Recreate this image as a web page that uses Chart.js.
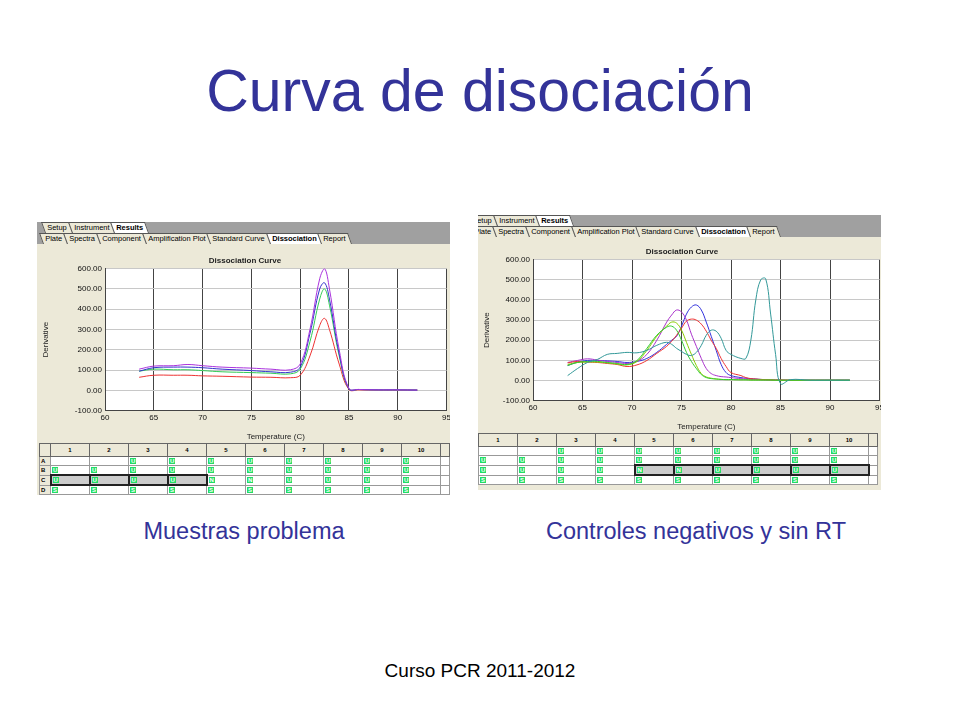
<!DOCTYPE html>
<html><head><meta charset="utf-8">
<script src="https://cdn.jsdelivr.net/npm/chart.js@4"></script>
<style>
body{margin:0;width:960px;height:720px;background:#fff;font-family:"Liberation Sans",Arial,sans-serif;position:relative;overflow:hidden}
.t{position:absolute;left:0;width:960px;text-align:center}
.panel{position:absolute;background:#ece9d8;overflow:hidden}
.tabs{position:absolute;left:0;right:0;height:11px;background:#a0a0a0;font-size:7.5px;white-space:nowrap}
.tabs span{display:inline-block;background:#ece9d8;border:1px solid #555;border-bottom:none;padding:0 3px;height:10px;line-height:10px;margin-right:-1px;transform:skewX(20deg)}
.tabs span b,.tabs span i{display:inline-block;transform:skewX(-20deg);font-style:normal}
.tabs span.a{background:#fff;font-weight:bold}
canvas{position:absolute}
table{position:absolute;border-collapse:collapse;font-size:6px;background:#fff}
td{border:1px solid #999;height:8px;padding:0 1px;line-height:8px;vertical-align:middle}
th{border:1px solid #666;background:#ece9d8;font-size:6px;height:10px}
.g{background:#22dd66;color:#fff;padding:0 1px;font-weight:bold}
.s{border:2px solid #222;background:#ccc}
</style></head><body>
<div class="t" style="top:57px;font-size:59px;color:#333399">Curva de disociación</div>
<div class="t" style="top:518px;left:-236px;font-size:23.5px;color:#333399">Muestras problema</div>
<div class="t" style="top:518px;left:216px;font-size:23.5px;color:#333399">Controles negativos y sin RT</div>
<div class="t" style="top:660px;font-size:19px;color:#000">Curso PCR 2011-2012</div>

<div class="panel" id="p1" style="left:37px;top:222px;width:413px;height:273px">
 <div class="tabs" style="top:0"><span style="margin-left:6px"><i>Setup</i></span><span><i>Instrument</i></span><span class="a"><i>Results</i></span></div>
 <div class="tabs" style="top:11px"><span style="margin-left:4px"><i>Plate</i></span><span><i>Spectra</i></span><span><i>Component</i></span><span><i>Amplification Plot</i></span><span><i>Standard Curve</i></span><span class="a"><i>Dissociation</i></span><span><i>Report</i></span></div>
 <canvas id="c1" style="left:0;top:32px"></canvas>
 <table id="t1" style="left:2px;top:221px"></table>
</div>
<div class="panel" id="p2" style="left:478px;top:215px;width:403px;height:275px">
 <div class="tabs" style="top:0"><span style="margin-left:-10px"><i>Setup</i></span><span><i>Instrument</i></span><span class="a"><i>Results</i></span></div>
 <div class="tabs" style="top:11px"><span style="margin-left:-8px"><i>Plate</i></span><span><i>Spectra</i></span><span><i>Component</i></span><span><i>Amplification Plot</i></span><span><i>Standard Curve</i></span><span class="a"><i>Dissociation</i></span><span><i>Report</i></span></div>
 <canvas id="c2" style="left:0;top:30px"></canvas>
 <table id="t2" style="left:0;top:218px"></table>
</div>
<script>
// ---- data ----
const tempsLeft=[63.5,65,67,68.5,70,72,75,77,79,80,81,82,82.5,83,84,85,86,88,90,92];
const leftPurple=[105,120,122,128,122,115,110,105,102,130,300,550,600,500,200,10,5,3,3,2];
const leftBlue=[95,112,115,115,112,105,98,92,90,115,280,500,530,450,180,8,5,3,3,2];
const leftGreen=[95,105,102,102,98,92,88,85,82,105,240,450,500,420,170,8,5,3,3,2];
const leftRed=[65,75,75,75,72,70,66,65,63,75,170,320,355,300,130,5,3,2,2,2];
const tempsRight=[63.5,64.5,65.5,66.5,67.5,68.5,69.5,70.5,71.5,72.5,73.5,74,74.5,75,75.5,76,76.5,77,77.5,78,78.5,79,79.5,80,81,81.5,82,82.5,83,83.5,84,84.5,85,86,88,90,92];
const rightTeal=[25,60,90,105,130,135,140,138,150,175,190,180,160,145,130,125,140,175,225,250,245,210,150,130,110,110,200,400,500,505,330,130,-15,5,2,2,2];
const rightPurple=[90,100,108,102,95,90,85,95,130,200,290,325,350,340,300,230,170,110,60,35,25,20,18,15,10,8,6,5,4,3,3,2,2,2,2,2,2];
const rightBlue=[75,92,100,100,98,95,90,95,110,140,180,200,220,270,330,365,375,350,290,220,150,80,40,25,15,12,10,8,6,5,4,3,3,2,2,2,2];
const rightRed=[88,95,92,90,85,80,70,78,100,135,170,195,225,260,295,305,300,280,245,200,160,110,70,40,25,15,10,8,6,5,4,3,3,2,2,2,2];
const rightGreen=[75,90,95,95,90,85,80,100,160,225,265,270,250,200,140,95,60,30,15,10,8,6,5,5,4,4,3,3,3,3,3,2,2,2,2,2,2];
const rightLime=[80,90,92,92,88,82,78,95,150,220,270,290,285,250,190,130,75,35,18,12,8,6,5,5,4,4,3,3,3,3,3,2,2,2,2,2,2];
const yTicks=[-100,0,100,200,300,400,500,600];
const xTicks=[60,65,70,75,80,85,90,95];
const columns=['1','2','3','4','5','6','7','8','9','10'];
const rowsLeft={A:['','','U','U','U','U','U','U','U','U'],B:['U','U','U','U','U','U','U','U','U','U'],C:['U','U','U','U','N','N','U','U','U','U'],D:['S','S','S','S','S','S','S','S','S','S']};
const selLeft=[0,1,2,3];
const rowsRight={A:['','','U','U','U','U','U','U','U','U'],B:['U','U','U','U','U','U','U','U','U','U'],C:['U','U','U','U','N','N','U','U','U','U'],D:['S','S','S','S','S','S','S','S','S','S']};
const selRight=[4,5,6,7,8,9];
// ---- drawing ----
const white={id:'w',beforeDraw(c){const a=c.chartArea,x=c.ctx;x.save();x.fillStyle='#fff';x.fillRect(a.left,a.top,a.right-a.left,a.bottom-a.top);x.restore();}};
function pts(t,v){return t.map((x,i)=>({x,y:v[i]}));}
function mk(id,w,h,yw,sets){
 const cv=document.getElementById(id);cv.width=w;cv.height=h;cv.style.width=w+'px';cv.style.height=h+'px';
 new Chart(cv,{type:'line',data:{datasets:sets.map(s=>({data:pts(s[0],s[1]),borderColor:s[2],borderWidth:1,pointRadius:0,tension:0.4,fill:false}))},
 options:{responsive:false,animation:false,devicePixelRatio:1,layout:{padding:{top:0,right:0,bottom:0,left:0}},
  plugins:{legend:{display:false},tooltip:{enabled:false},title:{display:true,text:'Dissociation Curve',color:'#222',font:{size:8,family:'Liberation Sans'},padding:{top:2,bottom:3}}},
  scales:{x:{type:'linear',min:60,max:95,afterBuildTicks(a){a.ticks=xTicks.map(v=>({value:v}));},ticks:{color:'#111',font:{size:8,family:'Liberation Sans'},padding:2},grid:{color:'#444',lineWidth:1,drawTicks:false},border:{color:'#444'},
    title:{display:true,text:'Temperature (C)',color:'#222',font:{size:8,family:'Liberation Sans'},padding:{top:8,bottom:0}}},
   y:{min:-100,max:600,afterBuildTicks(a){a.ticks=yTicks.map(v=>({value:v}));},afterFit(s){s.width=yw;},ticks:{color:'#111',font:{size:8,family:'Liberation Sans'},padding:3,callback:v=>v.toFixed(2)},grid:{color:'#c8c8c8',drawTicks:false},border:{color:'#444'},
    title:{display:true,text:'Derivative',color:'#222',font:{size:8,family:'Liberation Sans'}}}}},plugins:[white]});
}
mk('c1',416,188,68,[[tempsLeft,leftPurple,'#aa33dd'],[tempsLeft,leftBlue,'#3333cc'],[tempsLeft,leftGreen,'#33cc55'],[tempsLeft,leftRed,'#ee3333']]);
mk('c2',408,187,55,[[tempsRight,rightTeal,'#339999'],[tempsRight,rightGreen,'#33cc33'],[tempsRight,rightLime,'#88cc00'],[tempsRight,rightRed,'#ee3333'],[tempsRight,rightPurple,'#aa33cc'],[tempsRight,rightBlue,'#3333dd']]);
function tbl(id,rows,sel,first){
 let h='<tr>'+(first?'<th style="width:8px"></th>':'')+columns.map(c=>'<th style="width:36px">'+c+'</th>').join('')+'<th style="width:6px"></th></tr>';
 for(const r in rows){h+='<tr>'+(first?'<td style="background:#ece9d8;font-weight:bold">'+r+'</td>':'');
  rows[r].forEach((v,i)=>{const s=(r==='C'&&sel.includes(i));h+='<td'+(s?' class="s"':'')+'>'+(v?'<span class="g">'+v+'</span>':'')+'</td>';});h+='<td></td></tr>';}
 document.getElementById(id).innerHTML=h;
}
tbl('t1',rowsLeft,selLeft,true);tbl('t2',rowsRight,selRight,false);
</script></body></html>
